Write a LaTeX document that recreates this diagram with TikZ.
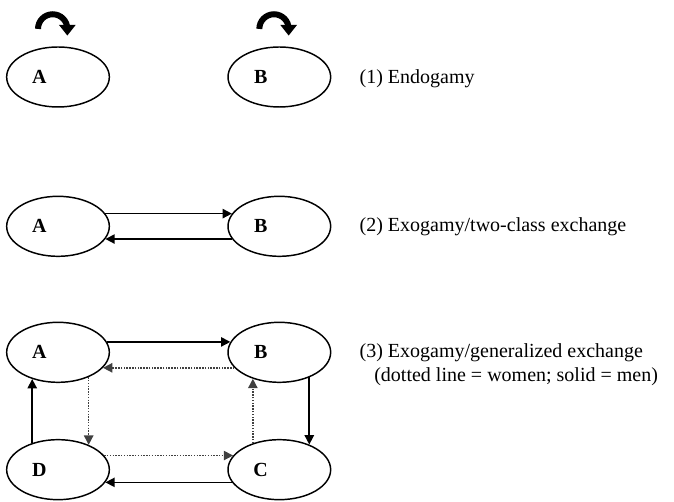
\documentclass[tikz,border=0pt]{standalone}
\usepackage{fontspec}
\setmainfont{Liberation Serif}
\usetikzlibrary{shapes.geometric, arrows.meta, positioning, calc}

\begin{document}
\begin{tikzpicture}[x=0.75pt, y=0.75pt, node distance=88pt and 166pt, on grid, font=\fontsize{15}{18}\selectfont]
    \tikzstyle{group} = [ellipse, draw=black, line width=1.1pt, minimum width=77pt, minimum height=45pt, inner sep=0pt]
    \tikzstyle{tag} = [font=\fontsize{15}{18}\selectfont\bfseries, xshift=-14pt]
    \tikzstyle{caption} = [anchor=west, align=left, inner sep=0pt]
    \tikzstyle{men} = [line width=1.2pt, -{Triangle[length=7pt,width=7pt]}]
    \tikzstyle{women} = [line width=1.1pt, densely dotted, black!75, -{Triangle[length=7pt,width=7pt]}]
    \tikzstyle{selfarrow} = [line width=4.5pt, -{Triangle[length=8pt,width=12pt]}]

    \useasboundingbox (0,0) rectangle (674,502);

    % (1) endogamy
    \node (a1) [group, label={[tag]center:A}] at (58,425) {};
    \node (b1) [group, label={[tag]center:B}, right=of a1] {};
    \draw [selfarrow] ($(a1.north)+(-15pt,13pt)$) arc[start angle=180, end angle=0, radius=11pt] -- ++(0,-5pt);
    \draw [selfarrow] ($(b1.north)+(-15pt,13pt)$) arc[start angle=180, end angle=0, radius=11pt] -- ++(0,-5pt);
    \node (t1) [caption, xshift=21pt, yshift=-1pt] at (b1.east) {(1) Endogamy};

    % (2) two-class exchange
    \node (a2) [group, label={[tag]center:A}, below=112pt of a1] {};
    \node (b2) [group, label={[tag]center:B}, right=of a2] {};
    \draw [men] (a2.15) -- (b2.165);
    \draw [men] (b2.195) -- (a2.345);
    \node (t2) [caption, xshift=21pt] at (b2.east) {(2) Exogamy/two-class exchange};

    % (3) generalized exchange
    \node (a3) [group, label={[tag]center:A}, below=94.5pt of a2] {};
    \node (b3) [group, label={[tag]center:B}, right=of a3] {};
    \node (d3) [group, label={[tag]center:D}, below=of a3] {};
    \node (c3) [group, label={[tag]center:C}, right=of d3] {};
    \draw [men] (a3.12) -- (b3.168);
    \draw [women] (b3.199) -- (a3.341);
    \draw [women] (a3.321) -- (d3.39);
    \draw [men] (d3.134) -- (a3.226);
    \draw [men] (b3.320) -- (c3.40);
    \draw [women] (c3.135) -- (b3.225);
    \draw [women] (d3.17) -- (c3.163);
    \draw [men] (c3.195) -- (d3.345);
    \node (t3) [caption, xshift=21pt, yshift=-9pt] at (b3.east) {(3) Exogamy/generalized exchange\\\hspace*{11pt}(dotted line = women; solid = men)};
\end{tikzpicture}
\end{document}
